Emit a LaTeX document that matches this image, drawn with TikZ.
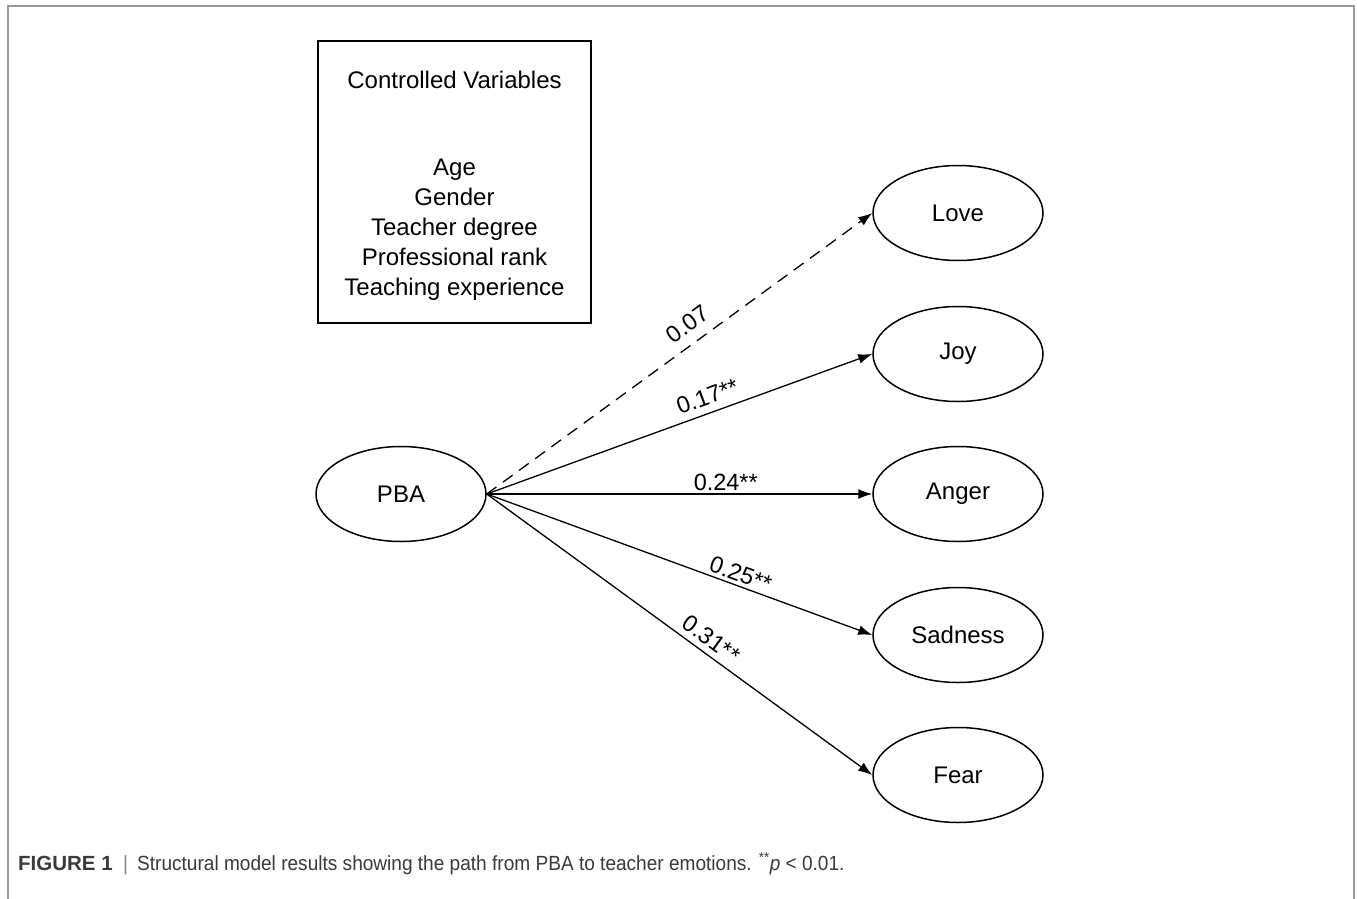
\documentclass[tikz,border=0pt]{standalone}
\usepackage{fontspec}
\setmainfont{Liberation Sans}
\newfontfamily\capfont{Liberation Sans}[FakeStretch=0.93]
\newfontfamily\capboldfont{Liberation Sans Bold}
\usetikzlibrary{arrows.meta,shapes.geometric}
\definecolor{framegray}{HTML}{9A9A9A}
\definecolor{capgray}{HTML}{3A3A3A}
\tikzset{
  lv/.style={draw, ellipse, line width=1.5pt, minimum width=170, minimum height=95, inner sep=0pt, font=\fontsize{24}{28}\selectfont},
  pathline/.style={line width=1.3pt, -{Latex[length=14pt,width=10pt]}},
  coef/.style={sloped, font=\fontsize{23.5}{26}\selectfont, inner sep=1pt},
  cvbox/.style={draw, line width=1.5pt, minimum width=273, minimum height=282, inner sep=0pt},
  cvtext/.style={font=\fontsize{24}{30}\selectfont, align=center},
  captext/.style={anchor=base west, text=capgray, font=\capfont\fontsize{20.5}{24}\selectfont, inner sep=0pt}
}
\begin{document}
\begin{tikzpicture}[x=1pt,y=-1pt]
\useasboundingbox (0,0) rectangle (1357,899);
\fill[white] (0,0) rectangle (1357,899);
\draw[framegray, line width=2pt] (8,899) -- (8,6) -- (1354,6) -- (1354,899);

% controlled variables box
\node[cvbox] (cv) at (454.5,182) {};
\node[cvtext] (cvtitle) at (454.5,80) {Controlled Variables};
\node[cvtext] (cvlist) at (454.5,230) {Age\\Gender\\Teacher degree\\Professional rank\\Teaching experience};

% latent variables
\node[lv] (pba) at (401,494) {PBA};
\node[lv] (love) at (958,213) {Love};
\node[lv] (joy) at (958,354) {Joy};
\node[lv] (anger) at (958,494) {Anger};
\node[lv] (sad) at (958,635) {Sadness};
\node[lv] (fear) at (958,775) {Fear};

% paths
\draw[pathline, dash pattern=on 12pt off 8pt] (pba.east) -- (love.west) node[coef, pos=0.55, above=9pt] {0.07};
\draw[pathline] (pba.east) -- (joy.west) node[coef, pos=0.587, above=6.5pt] {0.17**};
\draw[pathline] (pba.east) -- (anger.west) node[coef, pos=0.62, above=1.5pt] {0.24**};
\draw[pathline] (pba.east) -- (sad.west) node[coef, pos=0.648, above=2pt] {0.25**};
\draw[pathline] (pba.east) -- (fear.west) node[coef, pos=0.56, above=5pt] {0.31**};

% caption
\node[captext, font=\capboldfont\fontsize{20.5}{24}\selectfont] (figlbl) at (18,870) {FIGURE 1};
\node[captext, text=gray] (bar) at (123,870) {|};
\node[captext] (cap) at (137,870) {Structural model results showing the path from PBA to teacher emotions. \textsuperscript{**}\textit{p} < 0.01.};
\end{tikzpicture}
\end{document}
